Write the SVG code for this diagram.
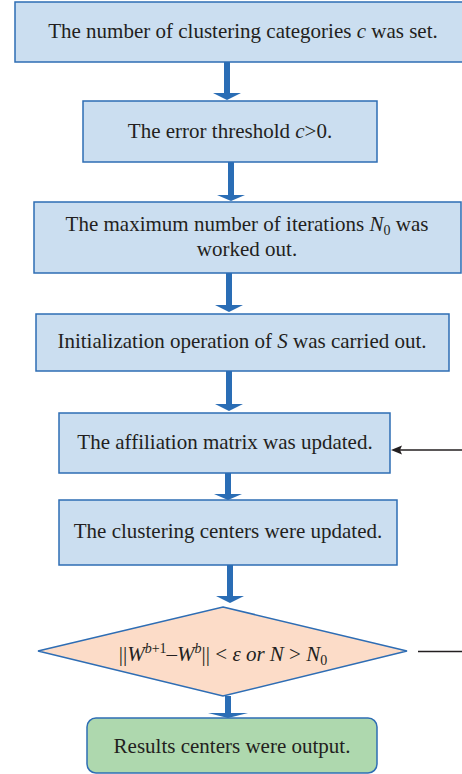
<svg xmlns="http://www.w3.org/2000/svg" width="462" height="774" viewBox="0 0 462 774">
<style>
.box{fill:#cbdef0;stroke:#2e6db4;stroke-width:1.5}
.dia{fill:#fcdcc8;stroke:#2e6db4;stroke-width:1.5}
.out{fill:#aed8ae;stroke:#2e6db4;stroke-width:1.5}
.t{font-family:"Liberation Serif","Times New Roman",serif;font-size:21px;fill:#231f20;text-anchor:middle}
.i{font-style:italic}
.s{font-size:14px}
.blue{fill:#2a6db5}
.fb{stroke:#231f20;stroke-width:1.4;fill:none}
</style>
<rect width="462" height="774" fill="#ffffff"/>
<g id="connectors">
<path class="blue" d="M224,62 H230 V93 H241 L227,100 L213,93 H224 Z"/>
<path class="blue" d="M228,162 H234 V195 H245 L231,201 L217,195 H228 Z"/>
<path class="blue" d="M226,273 H232 V305 H243 L229,312 L215,305 H226 Z"/>
<path class="blue" d="M226,371 H232 V404 H243 L229,411 L215,404 H226 Z"/>
<path class="blue" d="M225,473 H231 V494 H242 L228,500 L214,494 H225 Z"/>
<path class="blue" d="M227,565 H233 V596 H244 L230,603 L216,596 H227 Z"/>
<path class="blue" d="M225,696 H231 V713 H248 L228,718 L208,713 H225 Z"/>
<path class="fb" d="M462,450 H400"/>
<path d="M391,450 L402,445.5 L400,450 L402,454.5 Z" fill="#231f20"/>
<path class="fb" d="M418,651.5 H462"/>
</g>
<g id="n1">
<rect class="box" x="15" y="2" width="452" height="60"/>
<text class="t" x="243" y="38">The number of clustering categories <tspan class="i">c</tspan> was set.</text>
</g>
<g id="n2">
<rect class="box" x="83" y="101" width="294" height="61"/>
<text class="t" x="230" y="138">The error threshold <tspan class="i">c</tspan>&gt;0.</text>
</g>
<g id="n3">
<rect class="box" x="34" y="202" width="427" height="71"/>
<text class="t" x="247" y="231">The maximum number of iterations <tspan class="i">N</tspan><tspan class="s" dy="4">0</tspan><tspan dy="-4"> was</tspan></text>
<text class="t" x="247" y="256">worked out.</text>
</g>
<g id="n4">
<rect class="box" x="36" y="314" width="413" height="57"/>
<text class="t" x="242" y="348">Initialization operation of <tspan class="i">S</tspan> was carried out.</text>
</g>
<g id="n5">
<rect class="box" x="59" y="413" width="331" height="60"/>
<text class="t" x="225" y="449">The affiliation matrix was updated.</text>
</g>
<g id="n6">
<rect class="box" x="59" y="500" width="338" height="65"/>
<text class="t" x="228" y="538">The clustering centers were updated.</text>
</g>
<g id="n7">
<polygon class="dia" points="223,607 407,651 223,696 38,651"/>
<text class="t" x="223" y="661">||<tspan class="i">W</tspan><tspan class="s" dy="-8"><tspan class="i">b</tspan>+1</tspan><tspan dy="8">–</tspan><tspan class="i">W</tspan><tspan class="s i" dy="-8">b</tspan><tspan dy="8">|| &lt; </tspan><tspan class="i">ε or N</tspan> &gt; <tspan class="i">N</tspan><tspan class="s" dy="4">0</tspan></text>
</g>
<g id="n8">
<rect class="out" x="87" y="718" width="290" height="55" rx="9"/>
<text class="t" x="232" y="753">Results centers were output.</text>
</g>
</svg>
